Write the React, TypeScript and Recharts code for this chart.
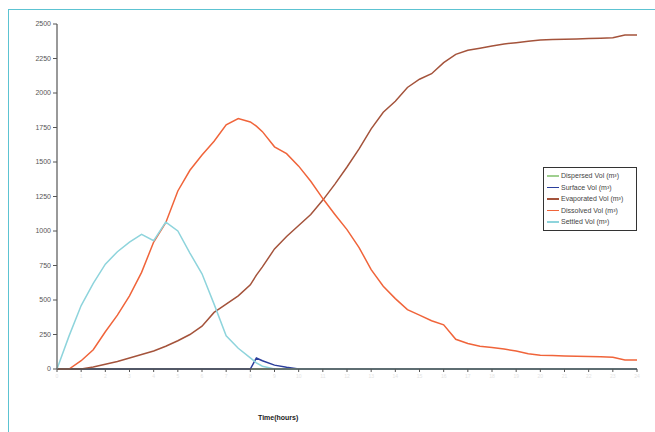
import React from "react";
import { LineChart, Line, XAxis, YAxis, Legend } from "recharts";

// time in x-axis tick units
const times = [
  0, 0.5, 1, 1.5, 2, 2.5, 3, 3.5, 4, 4.5, 5, 5.5, 6, 6.5, 7, 7.5, 8, 8.25, 8.5, 9, 9.5, 10,
  10.5, 11, 11.5, 12, 12.5, 13, 13.5, 14, 14.5, 15, 15.5, 16, 16.5, 17, 17.5, 18, 18.5, 19,
  19.5, 20, 20.5, 21, 21.5, 22, 22.5, 23, 23.5, 24,
];

const dispersed = times.map(() => 0);

const surface = [
  0, 0, 0, 0, 0, 0, 0, 0, 0, 0, 0, 0, 0, 0, 0, 0, 0, 80, 60, 28, 12, 0,
  0, 0, 0, 0, 0, 0, 0, 0, 0, 0, 0, 0, 0, 0, 0, 0, 0, 0,
  0, 0, 0, 0, 0, 0, 0, 0, 0, 0,
];

const evaporated = [
  0, 0, 0, 15, 35, 55, 80, 105, 130, 165, 205, 250, 310, 410, 470, 530, 610, 680, 740, 870, 960, 1040,
  1120, 1224, 1340, 1464, 1595, 1740, 1860, 1940, 2040, 2100, 2140, 2220, 2280, 2310, 2325, 2340, 2355, 2365,
  2375, 2384, 2388, 2390, 2392, 2395, 2397, 2400, 2420, 2420,
];

const dissolved = [
  0, 0, 60, 140, 270, 390, 530, 700, 920, 1060, 1290, 1440, 1550, 1650, 1770, 1815, 1790, 1760, 1720, 1610, 1560, 1470,
  1360, 1235, 1120, 1010, 880, 720, 600, 510, 430, 390, 350, 320, 215, 185, 165, 155, 145, 130,
  110, 100, 97, 95, 93, 90, 88, 85, 65, 65,
];

const settled = [
  0, 240, 460, 620, 760, 850, 920, 975, 930, 1065, 1000, 840, 690, 470, 240, 150, 80, 45, 20, 0, 0, 0,
  0, 0, 0, 0, 0, 0, 0, 0, 0, 0, 0, 0, 0, 0, 0, 0, 0, 0,
  0, 0, 0, 0, 0, 0, 0, 0, 0, 0,
];

const xTicks = Array.from({ length: 25 }, (_, i) => i);
const yTicks = [0, 250, 500, 750, 1000, 1250, 1500, 1750, 2000, 2250, 2500];

const series = [
  { key: "dispersed", name: "Dispersed Vol (m³)", color: "#9fcf8f" },
  { key: "surface", name: "Surface Vol (m³)", color: "#2b3f9c" },
  { key: "evaporated", name: "Evaporated Vol (m³)", color: "#a4533b" },
  { key: "dissolved", name: "Dissolved Vol (m³)", color: "#f0643a" },
  { key: "settled", name: "Settled Vol (m³)", color: "#8ed4dc" },
];

const data = times.map((t, i) => ({
  t,
  dispersed: dispersed[i],
  surface: surface[i],
  evaporated: evaporated[i],
  dissolved: dissolved[i],
  settled: settled[i],
}));

const font = "'Liberation Sans', Arial, sans-serif";

const LegendBox = () => (
  <div style={{
    border: "1px solid #333",
    background: "#fff",
    padding: "2px 3px",
    fontFamily: font,
    fontSize: 7,
    color: "#444",
    lineHeight: "11.5px",
  }}>
    {series.map((s) => (
      <div key={s.key} style={{ display: "flex", alignItems: "center" }}>
        <div style={{ width: 12, height: 1.5, background: s.color, marginRight: 2 }} />
        <span>{s.name}</span>
      </div>
    ))}
  </div>
);

export default function App() {
  return (
    <div style={{ position: "absolute", left: 0, top: 0, width: 655, height: 432, background: "#fff", overflow: "hidden" }}>
      <div style={{
        position: "absolute", left: 8, top: 9, width: 660, height: 440,
        borderLeft: "1.5px solid #5cc3d2", borderTop: "1.5px solid #5cc3d2",
      }} />
      <LineChart width={655} height={432} data={data} margin={{ top: 24, right: 18, left: 17, bottom: 33 }}>
        <XAxis
          dataKey="t"
          type="number"
          domain={[0, 24]}
          ticks={xTicks}
          height={30}
          axisLine={{ stroke: "#555", strokeWidth: 1.5 }}
          tickLine={{ stroke: "#555" }}
          tickSize={3}
          tick={{ fill: "#e4e4e4", fontSize: 5, fontFamily: font }}
        />
        <YAxis
          domain={[0, 2500]}
          ticks={yTicks}
          width={40}
          axisLine={{ stroke: "#777", strokeWidth: 1.5 }}
          tickLine={{ stroke: "#555" }}
          tickSize={4}
          tick={{ fill: "#555", fontSize: 7, fontFamily: font }}
        />
        <Legend
          content={<LegendBox />}
          layout="vertical"
          align="center"
          verticalAlign="middle"
          wrapperStyle={{ position: "absolute", left: 543, top: 167, width: 94, bottom: "auto" }}
        />
        {series.map((s) => (
          <Line
            key={s.key}
            type="linear"
            dataKey={s.key}
            name={s.name}
            stroke={s.color}
            strokeWidth={1.5}
            dot={false}
            isAnimationActive={false}
          />
        ))}
      </LineChart>
      <div style={{
        position: "absolute", left: 258, top: 414, fontFamily: font, fontSize: 7,
        fontWeight: "bold", color: "#222",
      }}>
        Time(hours)
      </div>
    </div>
  );
}
